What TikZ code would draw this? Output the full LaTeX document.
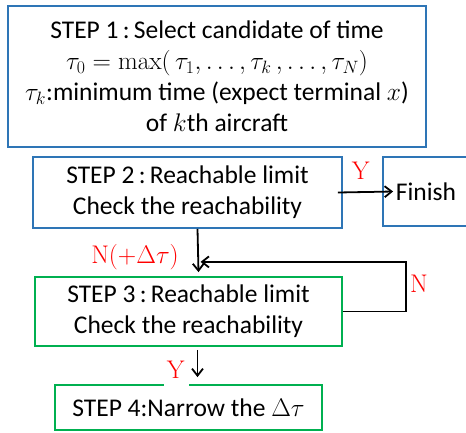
\documentclass[tikz,border=0pt]{standalone}
\usepackage{fix-cm}
\usepackage[no-math]{fontspec}
\setmainfont{Carlito}
\usepackage{xcolor}
\usepackage{tikz}
\usetikzlibrary{arrows.meta,calc,positioning}
\definecolor{fcBlue}{HTML}{2E75B6}
\definecolor{fcGreen}{HTML}{00B050}
\definecolor{fcRed}{HTML}{FF0000}

\begin{document}
\begin{tikzpicture}[x=1pt, y=-1pt, font=\fontsize{25.5}{31}\selectfont,
  bluebox/.style={draw=fcBlue, line width=1.8pt, align=center, inner sep=0pt},
  greenbox/.style={draw=fcGreen, line width=1.8pt, align=center, inner sep=0pt},
  lbl/.style={text=fcRed, fill=white, inner sep=0pt},
  arr/.style={-{Straight Barb[length=7pt,width=11pt]}, line width=1.8pt, black}]
  \useasboundingbox (0,0) rectangle (466,432);
  \node[bluebox, minimum width=418pt, minimum height=141pt] (step1) at (217,76.5) {STEP 1\,:\,Select candidate of time\\$\tau_0=\max(\,\tau_1,\dots,\tau_k\,,\dots,\tau_N)$\\$\tau_k$:minimum time (expect terminal $x$)\\of $k$th aircraft};
  \node[bluebox, minimum width=309pt, minimum height=71pt] (step2) at (187.5,192.5) {STEP 2\,:\,Reachable limit\\Check the reachability};
  \node[bluebox, minimum width=86pt, minimum height=69pt] (fin) at (426,191.5) {Finish};
  \node[greenbox, minimum width=307pt, minimum height=69pt] (step3) at (188.5,311.5) {STEP 3\,:\,Reachable limit\\Check the reachability};
  \node[greenbox, minimum width=267pt, minimum height=45pt] (step4) at (188.5,407.5) {STEP 4:Narrow the $\Delta\tau$};
  % connectors
  \draw[arr] ([xshift=-5pt]step2.east) -- ([xshift=11pt]fin.west);
  \draw[arr] ([xshift=10pt]step2.south) -- ([xshift=10pt,yshift=4pt]step3.north);
  \draw[arr] (step3.east) -- ++(63,0) |- ([xshift=13pt,yshift=-33pt]step2.south);
  \draw[arr] ([xshift=9pt,yshift=-3pt]step3.south) -- ([xshift=9pt,yshift=7pt]step4.north);
  % labels
  \node[lbl, minimum width=25pt, minimum height=40pt] (yfin) at (361,171) {$\mathrm{Y}$};
  \node[lbl] (nback) at (135,257) {$\mathrm{N}(+\Delta\tau)$};
  \node[lbl] (nloop) at (419,284) {$\mathrm{N}$};
  \node[lbl, minimum width=25pt, minimum height=36pt] (ynext) at (176,370) {$\mathrm{Y}$};
\end{tikzpicture}
\end{document}
